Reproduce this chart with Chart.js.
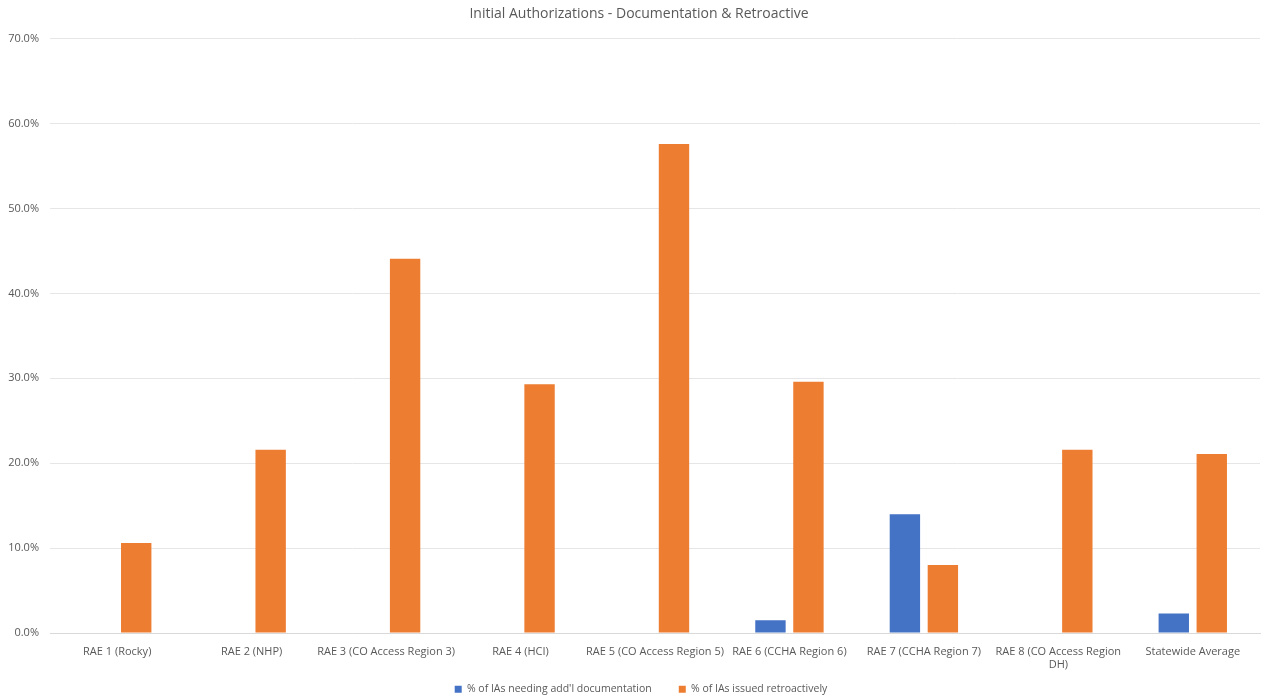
<!DOCTYPE html>
<html>
<head>
<meta charset="utf-8">
<script src="https://cdn.jsdelivr.net/npm/chart.js@4/dist/chart.umd.min.js"></script>
<style>
  html, body { margin: 0; padding: 0; background: #ffffff; }
  #wrap { width: 1262px; height: 700px; }
</style>
</head>
<body>
<div id="wrap"><canvas id="c" width="1262" height="700"></canvas></div>
<script>
// Regions (categories)
const regions = [
  'RAE 1 (Rocky)',
  'RAE 2 (NHP)',
  'RAE 3 (CO Access Region 3)',
  'RAE 4 (HCI)',
  'RAE 5 (CO Access Region 5)',
  'RAE 6 (CCHA Region 6)',
  'RAE 7 (CCHA Region 7)',
  ['RAE 8 (CO Access Region', 'DH)'],
  'Statewide Average'
];

// Percent of initial authorizations needing additional documentation
const needingDocs = [0, 0, 0, 0, 0, 1.5, 14.0, 0, 2.3];

// Percent of initial authorizations issued retroactively
const issuedRetro = [10.6, 21.6, 44.1, 29.3, 57.6, 29.6, 8.0, 21.6, 21.1];

// Y-axis ticks (percent)
const yTicks = [0, 10, 20, 30, 40, 50, 60, 70];

const FONT = "'Open Sans', 'Liberation Sans', sans-serif";
const GREY = '#595959';

// Keep the legend band compact while its items stay widely spaced,
// and nudge the title and legend so they centre over the plot area.
const bandLayout = {
  id: 'bandLayout',
  beforeLayout(chart) {
    const lg = chart.legend;
    if (lg && !lg._bandPatched) {
      const fit = lg.fit;
      lg.fit = function () {
        fit.call(this);
        this.height = 27;
      };
      lg._bandPatched = true;
    }
  },
  afterLayout(chart) {
    const lg = chart.legend;
    if (lg) {
      lg.top -= 16;
      lg.left += 11; lg.right += 11;
    }
    const tb = chart.titleBlock;
    if (tb) { tb.left += 9; tb.right += 9; }
  }
};

new Chart(document.getElementById('c'), {
  type: 'bar',
  data: {
    labels: regions,
    datasets: [
      {
        label: "% of IAs needing add'l documentation",
        data: needingDocs,
        backgroundColor: '#4472C4',
        categoryPercentage: 0.565,
        barPercentage: 0.8
      },
      {
        label: '% of IAs issued retroactively',
        data: issuedRetro,
        backgroundColor: '#ED7D31',
        categoryPercentage: 0.565,
        barPercentage: 0.8
      }
    ]
  },
  plugins: [bandLayout],
  options: {
    responsive: false,
    animation: false,
    layout: { padding: { left: 0, right: 2, top: 6, bottom: 0 } },
    plugins: {
      title: {
        display: true,
        text: 'Initial Authorizations - Documentation & Retroactive',
        color: GREY,
        font: { family: FONT, size: 14, weight: 'normal' },
        padding: { top: 0, bottom: 16 }
      },
      legend: {
        position: 'bottom',
        labels: {
          color: GREY,
          font: { family: FONT, size: 10.5 },
          boxWidth: 7,
          boxHeight: 7,
          padding: 27
        }
      },
      tooltip: { enabled: false }
    },
    scales: {
      x: {
        afterFit: (axis) => { axis.height = 40; },
        grid: { display: false },
        border: { display: true, color: '#d9d9d9', width: 1 },
        ticks: {
          color: GREY,
          font: { family: FONT, size: 11 },
          maxRotation: 0,
          autoSkip: false,
          padding: 4
        }
      },
      y: {
        min: 0,
        max: 70,
        afterBuildTicks: (axis) => { axis.ticks = yTicks.map(v => ({ value: v })); },
        afterFit: (axis) => { axis.width = 50; },
        grid: { color: '#e6e6e6', drawTicks: false },
        border: { display: false },
        ticks: {
          color: GREY,
          font: { family: FONT, size: 11 },
          padding: 11,
          callback: (v) => v.toFixed(1) + '%'
        }
      }
    }
  }
});
</script>
</body>
</html>
